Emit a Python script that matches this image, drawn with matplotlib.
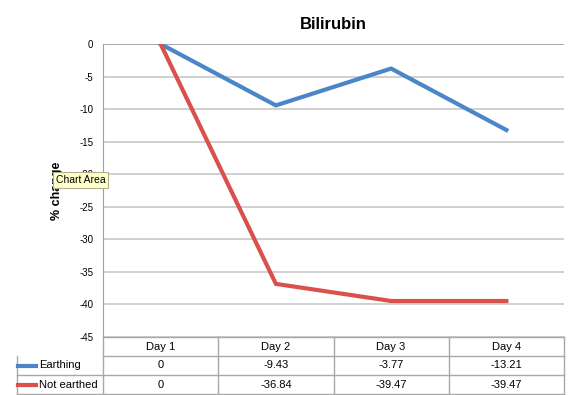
import matplotlib
matplotlib.use('Agg')
import matplotlib.pyplot as plt
from matplotlib.lines import Line2D

plt.rcParams['font.family'] = ['Liberation Sans', 'DejaVu Sans']
plt.rcParams['axes.unicode_minus'] = False

# data
days = ['Day 1', 'Day 2', 'Day 3', 'Day 4']
earthing = [0, -9.43, -3.77, -13.21]
not_earthed = [0, -36.84, -39.47, -39.47]
series_names = ['Earthing', 'Not earthed']
series_colors = ['#4a86c8', '#d9504c']

W, H = 573, 395
fig = plt.figure(figsize=(W / 100, H / 100), dpi=100)
# axes box in pixels: x 103..564, y 44..337
ax = fig.add_axes([103 / W, (H - 337) / H, (564 - 103) / W, (337 - 44) / H])

x = list(range(len(days)))
for vals, c in zip([earthing, not_earthed], series_colors):
    ax.plot(x, vals, color=c, lw=3, solid_joinstyle='miter', zorder=3)

ax.set_xlim(-0.5, len(days) - 0.5)
ax.set_ylim(-45, 0)
ax.set_yticks(range(-45, 1, 5))
ax.set_xticks([])
ax.tick_params(axis='y', length=0, labelsize=7, pad=7)
ax.grid(axis='y', color='#c8c8c8', lw=1.2)
ax.axhline(0, color='#a0a0a0', lw=1.2)
for s in ['top', 'right', 'bottom']:
    ax.spines[s].set_visible(False)
ax.spines['left'].set_color('#a0a0a0')

ax.set_title('Bilirubin', fontsize=12, fontweight='bold', pad=11)
ax.set_ylabel('% change', fontsize=9, fontweight='bold', labelpad=12)

# data table below the plot
tr = ax.get_xaxis_transform()
row_h = 19 / 293
lab_left = -0.5 - 86 / 115
gc = '#a8a8a8'
n = len(days)

def hline(x0, x1, y):
    ax.add_line(Line2D([x0, x1], [y, y], transform=tr, color=gc, lw=1, clip_on=False))

def vline(xv, y0, y1):
    ax.add_line(Line2D([xv, xv], [y0, y1], transform=tr, color=gc, lw=1, clip_on=False))

hline(-0.5, n - 0.5, 0)
hline(-0.5, n - 0.5, -row_h)
hline(lab_left, n - 0.5, -2 * row_h)
hline(lab_left, n - 0.5, -3 * row_h)
for i in range(n + 1):
    vline(i - 0.5, 0, -3 * row_h)
vline(lab_left, -row_h, -3 * row_h)

for i, d in enumerate(days):
    ax.text(i, -0.5 * row_h, d, transform=tr, ha='center', va='center', fontsize=8)

for r, (name, vals, c) in enumerate(zip(series_names, [earthing, not_earthed], series_colors)):
    yc = -(r + 1.5) * row_h
    ax.add_line(Line2D([lab_left + 0.01, lab_left + 0.17], [yc, yc], transform=tr,
                       color=c, lw=3, clip_on=False))
    ax.text(lab_left + 0.19, yc, name, transform=tr, ha='left', va='center', fontsize=8)
    for i, v in enumerate(vals):
        ax.text(i, yc, f'{v:g}', transform=tr, ha='center', va='center', fontsize=8)

# tooltip left on the screenshot
fig.text(56 / W, 1 - 180 / H, 'Chart Area', fontsize=7.5, va='center', ha='left', zorder=10,
         bbox=dict(boxstyle='square,pad=0.25', fc='#ffffc8', ec='#b0b090', lw=0.8))

fig.savefig('out.png', dpi=100)
